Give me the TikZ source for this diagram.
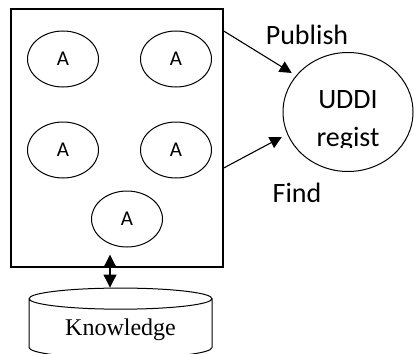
\documentclass[tikz,border=0pt]{standalone}
\usepackage{fontspec}
\setmainfont{Carlito}
\newfontfamily\kbfont{Liberation Serif}
\usetikzlibrary{arrows.meta,shapes.geometric}

\begin{document}
\begin{tikzpicture}[x=1pt,y=-1pt,
            agent/.style={draw,ellipse,line width=1pt,inner sep=0pt,
                minimum width=71pt,minimum height=56pt,
                font=\fontsize{21}{25}\selectfont},
            lbl/.style={inner sep=0pt,font=\fontsize{28}{33}\selectfont},
            flow/.style={-{Triangle[length=12pt,width=12pt]},line width=1.1pt},
            every node/.style={black}]
            \useasboundingbox (0,0) rectangle (414,353);
            % agents in the platform
            \node[draw,line width=1.4pt,minimum width=212pt,minimum height=258pt] (frame) at (117,138) {};
            \node[agent] (a1) at (63,59) {A};
            \node[agent] (a2) at (176,59) {A};
            \node[agent] (a3) at (63,150) {A};
            \node[agent] (a4) at (176,150) {A};
            \node[agent] (a5) at (127,219) {A};
        
            \node[draw,ellipse,line width=1pt,minimum width=130pt,minimum height=119pt] (uddi) at (348,112) {};
            \node[lbl] (udditxt) at (348,100) {UDDI};
            \begin{scope}
                \clip (283,118) rectangle (414,147);
                \node[lbl] (regtxt) at (348,139) {regist};
            \end{scope}
            \node[lbl] (pub) at (307,35) {Publish};
            \node[lbl] (find) at (297,193) {Find};
        
            \node[draw,cylinder,shape border rotate=90,aspect=0.18,line width=1pt,
                minimum width=183pt,minimum height=70pt,
                font=\kbfont\fontsize{24}{28}\selectfont] (kb) at (120.5,330) {Knowledge};
        
            \coordinate (pubfrom) at (frame.north east |- 0,31);
            \coordinate (findfrom) at (frame.north east |- 0,168);
            \draw[flow,shorten >=5pt] (pubfrom) -- (uddi.145);
            \draw[flow,shorten >=6pt] (findfrom) -- (uddi.200);
            \draw[line width=1.1pt,shorten <=-13pt,
                {Triangle[length=13pt,width=13pt]}-{Triangle[length=13pt,width=13pt]}] (frame.south -| 110,0) -- (kb.north -| 110,0);
        \end{tikzpicture}
\end{document}
